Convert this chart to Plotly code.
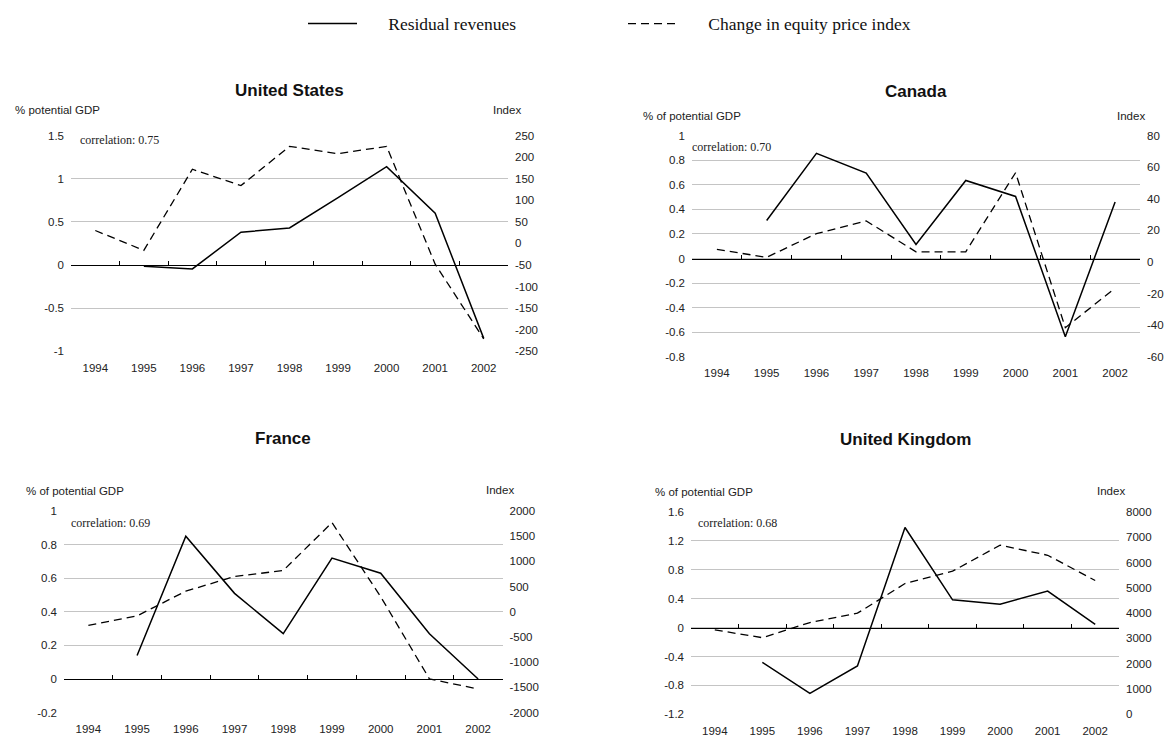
import plotly.graph_objects as go

W, H = 1170, 742

years = ["1994", "1995", "1996", "1997", "1998", "1999", "2000", "2001", "2002"]

# residual revenues, % of potential GDP (left axis); nothing for 1994
us_residual = [None, -0.015, -0.045, 0.38, 0.43, 0.78, 1.14, 0.60, -0.85]
canada_residual = [None, 0.31, 0.855, 0.695, 0.115, 0.635, 0.505, -0.635, 0.46]
france_residual = [None, 0.14, 0.85, 0.51, 0.27, 0.72, 0.63, 0.27, 0.0]
uk_residual = [None, -0.48, -0.91, -0.53, 1.385, 0.385, 0.325, 0.505, 0.045]

# change in equity price index (right axis)
us_equity = [30, -16, 172, 134, 225, 208, 225, -48, -221]
canada_equity = [8, 3, 18, 26, 6.5, 6.5, 56.5, -41.5, -16.5]
france_equity = [-270, -80, 410, 700, 820, 1770, 300, -1330, -1530]
uk_equity = [3340, 3030, 3630, 4000, 5170, 5660, 6690, 6290, 5290]

us_left_ticks = [-1, -0.5, 0, 0.5, 1, 1.5]
us_right_ticks = [-250, -200, -150, -100, -50, 0, 50, 100, 150, 200, 250]
canada_left_ticks = [-0.8, -0.6, -0.4, -0.2, 0, 0.2, 0.4, 0.6, 0.8, 1]
canada_right_ticks = [-60, -40, -20, 0, 20, 40, 60, 80]
france_left_ticks = [-0.2, 0, 0.2, 0.4, 0.6, 0.8, 1]
france_right_ticks = [-2000, -1500, -1000, -500, 0, 500, 1000, 1500, 2000]
uk_left_ticks = [-1.2, -0.8, -0.4, 0, 0.4, 0.8, 1.2, 1.6]
uk_right_ticks = [0, 1000, 2000, 3000, 4000, 5000, 6000, 7000, 8000]

SANS = "Liberation Sans, Arial, sans-serif"
SERIF = "Liberation Serif, Times New Roman, serif"
GRID = "#c4c4c4"
TEXT = "#222222"
GAP = "\u00a0" * 6  # space between legend sample and its label


def fx(x):
    return x / W


def fy(y):
    return 1 - y / H


def axid(letter, n):
    return letter if n == 1 else f"{letter}{n}"


def axkey(letter, n):
    return f"{letter}axis" if n == 1 else f"{letter}axis{n}"


panels = [
    dict(title="United States", left_title="% potential GDP", corr="correlation: 0.75",
         residual=us_residual, equity=us_equity,
         left_ticks=us_left_ticks, right_ticks=us_right_ticks,
         box=(71, 508, 131.7, 351), cross=False,
         title_xy=(289.5, 86), left_title_xy=(13, 106), index_xy=(523, 106), corr_xy=(78, 136)),
    dict(title="Canada", left_title="% of potential GDP", corr="correlation: 0.70",
         residual=canada_residual, equity=canada_equity,
         left_ticks=canada_left_ticks, right_ticks=canada_right_ticks,
         box=(692, 1140, 131.7, 356.7), cross=False,
         title_xy=(916, 87), left_title_xy=(641, 112), index_xy=(1147, 112), corr_xy=(690, 143)),
    dict(title="France", left_title="% of potential GDP", corr="correlation: 0.69",
         residual=france_residual, equity=france_equity,
         left_ticks=france_left_ticks, right_ticks=france_right_ticks,
         box=(64, 502.5, 513.3, 718.3), cross=True,
         title_xy=(283, 440), left_title_xy=(24, 493), index_xy=(516, 492), corr_xy=(69, 526)),
    dict(title="United Kingdom", left_title="% of potential GDP", corr="correlation: 0.68",
         residual=uk_residual, equity=uk_equity,
         left_ticks=uk_left_ticks, right_ticks=uk_right_ticks,
         box=(691, 1119, 514.3, 720), cross=True,
         title_xy=(905, 441), left_title_xy=(653, 494), index_xy=(1127, 493), corr_xy=(696, 526)),
]

fig = go.Figure()
layout = {}
annotations = []
xn, yn = 1, 1
tick_font = dict(family=SANS, size=11.5, color=TEXT)
n_cat = len(years)
boundaries = [i - 0.5 for i in range(n_cat + 1)]

for k, p in enumerate(panels):
    x0, x1, ytop, ybot = p["box"]
    xdom = [fx(x0), fx(x1)]
    ydom = [fy(ybot), fy(ytop)]
    x_year, x_zero, x_cross = xn, xn + 1, xn + 2
    y_left, y_right = yn, yn + 1
    xn += 3 if p["cross"] else 2
    yn += 2

    lo, hi = p["left_ticks"][0], p["left_ticks"][-1]
    rlo, rhi = p["right_ticks"][0], p["right_ticks"][-1]
    zero_pos = ydom[0] + (0 - lo) / (hi - lo) * (ydom[1] - ydom[0])

    fig.add_trace(go.Scatter(
        x=years, y=p["residual"], mode="lines", name=GAP + "Residual revenues",
        line=dict(color="black", width=1.5), showlegend=(k == 0),
        xaxis=axid("x", x_year), yaxis=axid("y", y_left),
    ))
    fig.add_trace(go.Scatter(
        x=years, y=p["equity"], mode="lines", name=GAP + "Change in equity price index",
        line=dict(color="black", width=1.3, dash="8px,5px"), showlegend=(k == 0),
        xaxis=axid("x", x_zero), yaxis=axid("y", y_right),
    ))

    layout[axkey("x", x_year)] = dict(
        domain=xdom, anchor=axid("y", y_left), type="category",
        range=[-0.5, n_cat - 0.5], showline=False, ticks="", showgrid=False,
        zeroline=False, tickfont=tick_font, ticklabelstandoff=8,
    )
    layout[axkey("x", x_zero)] = dict(
        overlaying=axid("x", x_year), anchor="free", position=zero_pos,
        type="category", range=[-0.5, n_cat - 0.5], showline=True,
        linecolor="black", linewidth=1, ticks="inside", tickson="boundaries",
        ticklen=4, tickwidth=1, tickcolor="black", showticklabels=False,
        showgrid=False, zeroline=False,
    )
    if p["cross"]:
        layout[axkey("x", x_cross)] = dict(
            overlaying=axid("x", x_year), anchor="free", position=zero_pos,
            type="linear", range=[-0.5, n_cat - 0.5], showline=False,
            tickmode="array", tickvals=boundaries, ticks="outside", ticklen=4,
            tickwidth=1, tickcolor="black", showticklabels=False,
            showgrid=False, zeroline=False,
        )
    layout[axkey("y", y_left)] = dict(
        domain=ydom, anchor=axid("x", x_year), range=[lo, hi],
        tickmode="array", tickvals=p["left_ticks"],
        ticktext=[f"{v:g}" for v in p["left_ticks"]],
        showgrid=True, gridcolor=GRID, gridwidth=1, zeroline=False,
        showline=False, ticks="", tickfont=tick_font, ticklabelstandoff=6,
    )
    layout[axkey("y", y_right)] = dict(
        overlaying=axid("y", y_left), side="right", anchor=axid("x", x_year),
        range=[rlo, rhi], tickmode="array", tickvals=p["right_ticks"],
        ticktext=[f"{v:g}" for v in p["right_ticks"]],
        showgrid=False, zeroline=False, showline=False, ticks="",
        tickfont=tick_font, ticklabelstandoff=6,
    )

    tx, ty = p["title_xy"]
    annotations.append(dict(
        text=f"<b>{p['title']}</b>", x=fx(tx), y=fy(ty), xref="paper", yref="paper",
        xanchor="center", yanchor="middle", showarrow=False,
        font=dict(family=SANS, size=17, color="#111111"),
    ))
    lx, ly = p["left_title_xy"]
    annotations.append(dict(
        text=p["left_title"], x=fx(lx), y=fy(ly), xref="paper", yref="paper",
        xanchor="left", yanchor="middle", showarrow=False, font=tick_font,
    ))
    ix, iy = p["index_xy"]
    annotations.append(dict(
        text="Index", x=fx(ix), y=fy(iy), xref="paper", yref="paper",
        xanchor="right", yanchor="middle", showarrow=False, font=tick_font,
    ))
    cx, cy = p["corr_xy"]
    annotations.append(dict(
        text=p["corr"], x=fx(cx), y=fy(cy), xref="paper", yref="paper",
        xanchor="left", yanchor="middle", showarrow=False,
        font=dict(family=SERIF, size=12, color=TEXT),
    ))

fig.update_layout(
    width=W, height=H,
    margin=dict(l=0, r=0, t=0, b=0),
    paper_bgcolor="white", plot_bgcolor="white",
    annotations=annotations,
    legend=dict(
        orientation="h", x=fx(303), xanchor="left", y=fy(18), yanchor="middle",
        font=dict(family=SERIF, size=17.5, color="#111111"),
        itemwidth=49, entrywidth=256, bgcolor="rgba(0,0,0,0)",
        traceorder="normal",
    ),
    **layout,
)

fig.write_html(
    "out.html",
    config={"displayModeBar": False},
    post_script="document.body.style.margin='0';document.body.style.overflow='hidden';",
)
